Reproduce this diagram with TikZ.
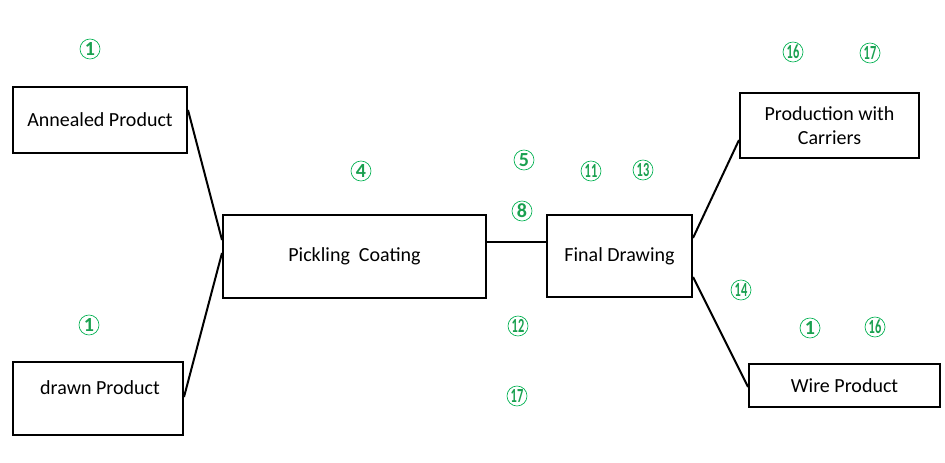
\documentclass[tikz,border=0pt]{standalone}
\usepackage{fontspec}
\setmainfont{Carlito}
\usepackage{graphicx}
\usepackage{tikz}
\usetikzlibrary{calc}
\definecolor{numgreen}{HTML}{1AA050}
\definecolor{ringgreen}{HTML}{00B050}

\tikzset{
  stage/.style={draw=black, line width=1.5pt, fill=white, inner sep=0pt,
    font=\fontsize{15}{18}\selectfont, align=center},
  link/.style={black, line width=1.5pt},
  numtag/.style={circle, draw=ringgreen, line width=0.5pt, text=numgreen,
    inner sep=0pt, minimum size=15pt, font=\fontsize{15}{15}\selectfont\bfseries}
}
\newcommand{\twodig}[1]{\scalebox{0.62}[1]{#1}}

\begin{document}
\begin{tikzpicture}[x=0.75pt, y=-0.75pt]
\useasboundingbox (0,0) rectangle (945,463);

% process boxes
\node[stage, minimum width=130.5pt, minimum height=49.5pt] (annealed) at (100,120) {Annealed Product};
\node[stage, minimum width=127.5pt, minimum height=54.75pt] (drawn) at (98,398.5) {};
\node[font=\fontsize{15}{18}\selectfont] (drawntext) at (100,388) {drawn Product};
\node[stage, minimum width=197.25pt, minimum height=62.25pt] (pickling) at (354.5,256.5) {Pickling~ Coating};
\node[stage, minimum width=108.75pt, minimum height=61.5pt] (final) at (619.5,256) {Final Drawing};
\node[stage, minimum width=134.25pt, minimum height=48.75pt] (carriers) at (829.5,125.5) {Production with\\Carriers};
\node[stage, minimum width=143.25pt, minimum height=32.25pt] (wire) at (844.5,385.5) {Wire Product};

% connectors
\draw[link] ($(annealed.east)+(0,-10)$) -- ($(pickling.west)+(0,-16.5)$);
\draw[link] ($(drawn.east)+(0,-1.5)$) -- ($(pickling.west)+(0,-3.5)$);
\draw[link] ($(pickling.east)+(0,-14.5)$) -- ($(final.west)+(0,-14)$);
\draw[link] ($(final.east)+(0,-18)$) -- ($(carriers.west)+(0,14.5)$);
\draw[link] ($(final.east)+(0,21)$) -- ($(wire.west)+(0,1.5)$);

% circled numbers
\node[numtag] (n1a) at (90,49) {1};
\node[numtag] (n1b) at (89,325) {1};
\node[numtag] (n4) at (361,171) {4};
\node[numtag] (n5) at (524,160) {5};
\node[numtag] (n8) at (522,211) {8};
\node[numtag] (n11) at (591,171) {\twodig{11}};
\node[numtag] (n13) at (643,170) {\twodig{13}};
\node[numtag] (n12) at (518,326) {\twodig{12}};
\node[numtag] (n17a) at (517,396) {\twodig{17}};
\node[numtag] (n16a) at (793,52) {\twodig{16}};
\node[numtag] (n17b) at (870,53) {\twodig{17}};
\node[numtag] (n14) at (741,290) {\twodig{14}};
\node[numtag] (n1c) at (810,328) {1};
\node[numtag] (n16b) at (875,327) {\twodig{16}};
\end{tikzpicture}
\end{document}
